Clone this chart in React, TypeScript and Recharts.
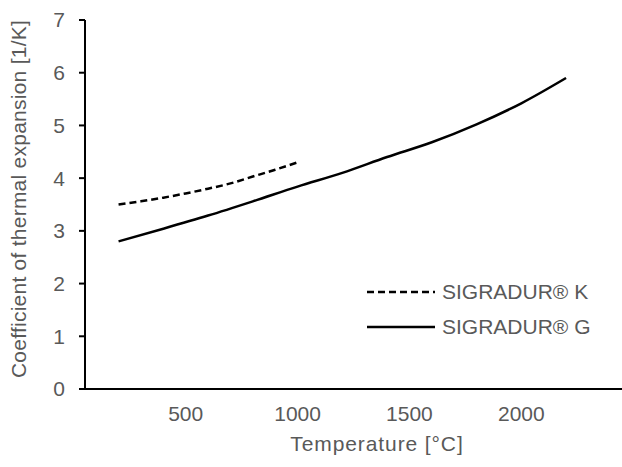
import { LineChart, Line, XAxis, YAxis, Legend } from 'recharts';

// SIGRADUR K (dashed), temperature in °C, CTE in 1/K
const TEMP_K = [200, 300, 400, 500, 600, 700, 800, 900, 1000];
const CTE_K = [3.5, 3.56, 3.63, 3.71, 3.8, 3.9, 4.03, 4.16, 4.3];

// SIGRADUR G (solid)
const TEMP_G = [200, 400, 600, 800, 1000, 1200, 1400, 1600, 1800, 2000, 2200];
const CTE_G = [2.8, 3.04, 3.29, 3.56, 3.84, 4.1, 4.4, 4.68, 5.02, 5.42, 5.9];

const X_TICKS = [500, 1000, 1500, 2000];
const Y_TICKS = [0, 1, 2, 3, 4, 5, 6, 7];

const LABEL_K = 'SIGRADUR® K';
const LABEL_G = 'SIGRADUR® G';

const FONT = '"Liberation Sans", Arial, sans-serif';
const GREY = '#595959';
const DASH = '7 4';

const dataK = TEMP_K.map((t, i) => ({ t, v: CTE_K[i] }));
const dataG = TEMP_G.map((t, i) => ({ t, v: CTE_G[i] }));

const SERIES = [
  { name: LABEL_K, dash: DASH },
  { name: LABEL_G, dash: undefined },
];

function LegendBox() {
  return (
    <div style={{ fontFamily: FONT, fontSize: 21, color: GREY }}>
      {SERIES.map((s) => (
        <div key={s.name} style={{ display: 'flex', alignItems: 'center', height: 35 }}>
          <svg width={75} height={10}>
            <line x1={0} x2={68} y1={5} y2={5} stroke="#000" strokeWidth={2.5} strokeDasharray={s.dash} />
          </svg>
          <span>{s.name}</span>
        </div>
      ))}
    </div>
  );
}

const YTitle = () => (
  <text
    x={18}
    y={199}
    transform="rotate(-90 18 199)"
    textAnchor="middle"
    dominantBaseline="central"
    fill={GREY}
    fontSize={21}
    fontFamily={FONT}
    letterSpacing={0.25}
  >
    Coefficient of thermal expansion [1/K]
  </text>
);

const XTitle = () => (
  <text
    x={377}
    y={443}
    textAnchor="middle"
    dominantBaseline="central"
    fill={GREY}
    fontSize={21}
    fontFamily={FONT}
    letterSpacing={0.9}
  >
    Temperature [°C]
  </text>
);

export default function App() {
  return (
    <div style={{ position: 'absolute', left: 0, top: 0, width: 622, height: 467, background: '#fff' }}>
      <LineChart width={622} height={467} margin={{ top: 20, right: 0, bottom: 0, left: 0 }}>
        <XAxis
          dataKey="t"
          type="number"
          domain={[50, 2450]}
          ticks={X_TICKS}
          height={78}
          tickLine={false}
          tickSize={0}
          tickMargin={17}
          axisLine={{ stroke: '#000', strokeWidth: 2 }}
          tick={{ fill: GREY, fontSize: 21, fontFamily: FONT }}
          allowDuplicatedCategory={false}
          label={<XTitle />}
        />
        <YAxis
          type="number"
          domain={[0, 7]}
          ticks={Y_TICKS}
          width={85}
          tickSize={6}
          tickMargin={14}
          tickLine={{ stroke: '#000', strokeWidth: 2 }}
          axisLine={{ stroke: '#000', strokeWidth: 2 }}
          tick={{ fill: GREY, fontSize: 21, fontFamily: FONT }}
          label={<YTitle />}
        />
        <Legend
          layout="horizontal"
          verticalAlign="middle"
          content={<LegendBox />}
          wrapperStyle={{ position: 'absolute', left: 367, top: 274, width: 250 }}
        />
        <Line
          data={dataK}
          dataKey="v"
          name={LABEL_K}
          type="monotone"
          stroke="#000"
          strokeWidth={2.5}
          strokeDasharray={DASH}
          dot={false}
          activeDot={false}
          isAnimationActive={false}
        />
        <Line
          data={dataG}
          dataKey="v"
          name={LABEL_G}
          type="monotone"
          stroke="#000"
          strokeWidth={2.5}
          dot={false}
          activeDot={false}
          isAnimationActive={false}
        />
      </LineChart>
    </div>
  );
}
